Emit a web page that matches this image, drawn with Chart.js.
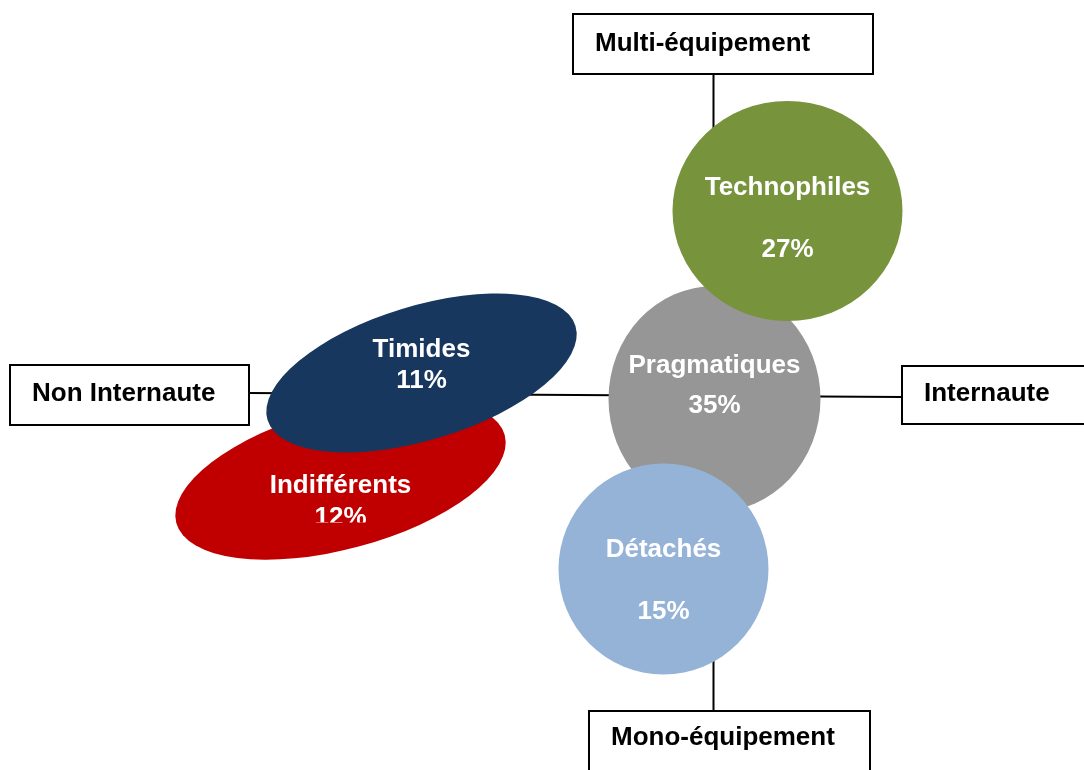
<!DOCTYPE html>
<html>
<head>
<meta charset="utf-8">
<script src="https://cdn.jsdelivr.net/npm/chart.js@4/dist/chart.umd.min.js"></script>
<style>
  html, body { margin: 0; padding: 0; background: #fff; }
  #wrap { width: 1084px; height: 770px; }
</style>
</head>
<body>
<div id="wrap"><canvas id="map" width="1084" height="770"></canvas></div>
<script>
// Segments of the typology and their share
const segments = ['Indifférents', 'Timides', 'Pragmatiques', 'Technophiles', 'Détachés'];
const shares = [12, 11, 35, 27, 15];

// Position on the map: x = Non Internaute (-) / Internaute (+), y = Mono (-) / Multi-équipement (+)
const xPos = [-37.3, -29.2, 0.1, 7.4, -5.0];
const yPos = [-8.4, 2.2, -0.4, 18.4, -17.4];
// Extent of each segment along its main axes, and its tilt in degrees
const spreadA = [17.0, 16.1, 10.6, 11.5, 10.5];
const spreadB = [7.0, 6.7, 11.3, 11.0, 10.55];
const tilt = [15, 17, 0, 0, 0];

// Axis ends
const axisLabels = ['Non Internaute', 'Internaute', 'Multi-équipement', 'Mono-équipement'];

// Styles / layout
const colors = ['#C00000', '#17375E', '#969696', '#77933C', '#95B3D7'];
const nameOffset = [14, -16, -26, -16, -12];   // baseline offset from centre, px
const valueOffset = [46, 15, 14, 46, 50];
const valueCut = [2.5, 0, 0, 0, 0];            // text box cut above the baseline (as in the original)
const boxes = [
    { x1: 10, y1: 365, x2: 249, y2: 425, base: 401 },
    { x1: 902, y1: 366, x2: 1092, y2: 424, base: 401 },
    { x1: 573, y1: 14, x2: 873, y2: 74, base: 51 },
    { x1: 589, y1: 711, x2: 870, y2: 780, base: 745 }
];
const FONT = 'bold 26px "Liberation Sans", Arial, sans-serif';

const mapPlugin = {
    id: 'segmentMap',
    beforeDatasetsDraw(chart) {
        const { ctx, scales: { x, y } } = chart;
        const x0 = x.getPixelForValue(0);
        const y0 = y.getPixelForValue(0);

        // axes
        ctx.save();
        ctx.strokeStyle = '#000';
        ctx.lineWidth = 2;
        ctx.beginPath();
        ctx.moveTo(boxes[0].x2, y0 - 2);
        ctx.lineTo(boxes[1].x1, y0 + 2);
        ctx.moveTo(x0, boxes[2].y2);
        ctx.lineTo(x0, boxes[3].y1);
        ctx.stroke();

        // segments
        const meta = chart.getDatasetMeta(0);
        segments.forEach((name, i) => {
            const pt = meta.data[i];
            const rx = Math.abs(x.getPixelForValue(xPos[i] + spreadA[i]) - pt.x);
            const ry = Math.abs(y.getPixelForValue(yPos[i] + spreadB[i]) - pt.y);
            ctx.beginPath();
            ctx.ellipse(pt.x, pt.y, rx, ry, -tilt[i] * Math.PI / 180, 0, Math.PI * 2);
            ctx.fillStyle = colors[i];
            ctx.fill();
        });

        ctx.font = FONT;
        ctx.fillStyle = '#fff';
        ctx.textAlign = 'center';
        ctx.textBaseline = 'alphabetic';
        segments.forEach((name, i) => {
            const pt = meta.data[i];
            ctx.fillText(name, pt.x, pt.y + nameOffset[i]);
            const base = pt.y + valueOffset[i];
            ctx.save();
            if (valueCut[i]) {
                ctx.beginPath();
                ctx.rect(pt.x - 100, base - 40, 200, 40 - valueCut[i]);
                ctx.clip();
            }
            ctx.fillText(shares[i] + '%', pt.x, base);
            ctx.restore();
        });

        // axis end boxes
        ctx.textAlign = 'left';
        boxes.forEach((b, i) => {
            ctx.fillStyle = '#fff';
            ctx.fillRect(b.x1, b.y1, b.x2 - b.x1, b.y2 - b.y1);
            ctx.strokeStyle = '#000';
            ctx.lineWidth = 2;
            ctx.strokeRect(b.x1, b.y1, b.x2 - b.x1, b.y2 - b.y1);
            ctx.fillStyle = '#000';
            ctx.fillText(axisLabels[i], b.x1 + 22, b.base);
        });
        ctx.restore();
    }
};

new Chart(document.getElementById('map'), {
    type: 'scatter',
    data: {
        labels: segments,
        datasets: [{
            data: segments.map((s, i) => ({ x: xPos[i], y: yPos[i] })),
            pointRadius: 0,
            pointHoverRadius: 0
        }]
    },
    options: {
        responsive: false,
        animation: false,
        devicePixelRatio: 1,
        layout: { padding: 0 },
        plugins: { legend: { display: false }, tooltip: { enabled: false } },
        scales: {
            x: { type: 'linear', min: -71.35, max: 37.05, display: false },
            y: { type: 'linear', min: -37.5, max: 39.5, display: false }
        }
    },
    plugins: [mapPlugin]
});
</script>
</body>
</html>
